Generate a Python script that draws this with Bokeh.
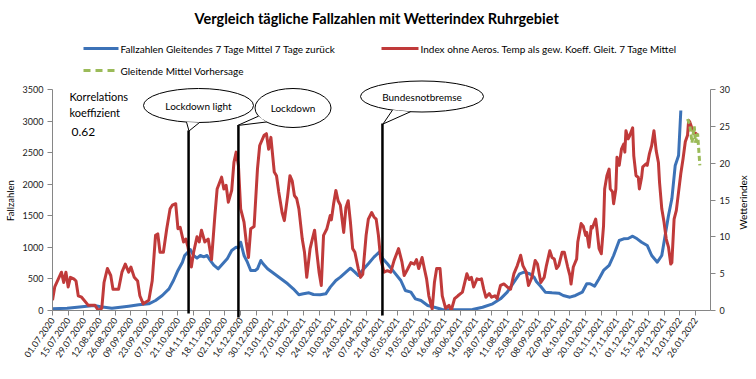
import math
from bokeh.plotting import figure
from bokeh.models import Range1d, LinearAxis, FixedTicker
from bokeh.core.properties import value
from bokeh.embed import file_html
from bokeh.resources import INLINE

FONT = "Lato"
BLUE = "#3C72B7"
RED = "#C03A3A"
GREEN = "#9BBB59"
AXIS_GREY = "#868686"

# ---------------- data ----------------
tick_labels = ["01.07.2020", "15.07.2020", "29.07.2020", "12.08.2020", "26.08.2020", "09.09.2020",
               "23.09.2020", "07.10.2020", "21.10.2020", "04.11.2020", "18.11.2020", "02.12.2020",
               "16.12.2020", "30.12.2020", "13.01.2021", "27.01.2021", "10.02.2021", "24.02.2021",
               "10.03.2021", "24.03.2021", "07.04.2021", "21.04.2021", "05.05.2021", "19.05.2021",
               "02.06.2021", "16.06.2021", "30.06.2021", "14.07.2021", "28.07.2021", "11.08.2021",
               "25.08.2021", "08.09.2021", "22.09.2021", "06.10.2021", "20.10.2021", "03.11.2021",
               "17.11.2021", "01.12.2021", "15.12.2021", "29.12.2021", "12.01.2022", "26.01.2022"]
tick_tage = [14 * i for i in range(len(tick_labels))]   # category index (days since 01.07.2020)
fall_ticks = [0, 500, 1000, 1500, 2000, 2500, 3000, 3500]
index_ticks = [0, 5, 10, 15, 20, 25, 30]

# Fallzahlen, gleitendes 7-Tage-Mittel (day index since 01.07.2020, value)
fall_tag = [0, 13, 22, 37, 43, 53, 68, 77, 86, 92, 98, 104, 108, 112, 116, 118, 121, 123, 126, 129,
            132, 135, 138, 141, 144, 148, 152, 156, 160, 164, 166, 168, 171, 174, 177, 181, 183, 186,
            188, 192, 198, 204, 210, 215, 220, 224, 229, 233, 239, 244, 248, 253, 257, 262, 266, 270,
            273, 278, 282, 287, 292, 295, 299, 305, 311, 315, 320, 324, 329, 335, 341, 348, 357, 366,
            375, 384, 393, 400, 406, 412, 417, 421, 426, 430, 432, 436, 440, 446, 452, 456, 462, 467,
            473, 477, 480, 484, 488, 492, 497, 501, 506, 510, 514, 518, 522, 526, 531, 535, 540, 544,
            547, 550, 553, 556, 559, 561]
fall_wert = [27, 37, 52, 79, 60, 37, 68, 90, 106, 158, 238, 343, 475, 634, 765, 871, 924, 966, 871, 829,
             871, 850, 871, 790, 720, 660, 740, 818, 950, 1003, 990, 1082, 871, 765, 634, 634, 660, 792,
             740, 660, 581, 502, 423, 343, 249, 264, 280, 253, 249, 264, 370, 475, 528, 607, 670, 607,
             554, 660, 740, 845, 930, 818, 740, 607, 475, 317, 290, 185, 158, 79, 52, 16, 10, 10,
             15, 52, 106, 185, 290, 449, 581, 607, 581, 528, 459, 380, 290, 280, 275, 238, 211, 238,
             290, 423, 423, 385, 502, 634, 713, 871, 1109, 1135, 1140, 1177, 1135, 1082, 1030, 871, 765, 871,
             1188, 1505, 1769, 2297, 2455, 3168]

# Wetterindex (Index ohne Aeros.), gleitendes 7-Tage-Mittel
index_tag = [0, 2, 8, 10, 12, 14, 16, 19, 21, 23, 26, 32, 38, 41, 44, 46, 49, 52, 54, 59, 62, 65, 68, 70,
             73, 76, 78, 81, 86, 89, 92, 94, 96, 99, 102, 105, 107, 110, 112, 114, 117, 119, 121, 124,
             126, 129, 131, 133, 136, 139, 142, 145, 147, 151, 153, 155, 157, 160, 162, 164, 166, 168,
             171, 173, 175, 177, 180, 183, 185, 189, 191, 193, 195, 198, 200, 202, 205, 207, 210, 212,
             214, 216, 218, 220, 223, 225, 227, 230, 232, 234, 236, 238, 240, 242, 245, 248, 249, 251,
             253, 255, 257, 260, 262, 264, 266, 268, 270, 273, 275, 277, 280, 282, 285, 287, 289, 291,
             293, 296, 299, 302, 305, 309, 312, 314, 317, 320, 323, 325, 327, 330, 332, 334, 336, 339,
             341, 343, 346, 348, 351, 354, 356, 359, 362, 366, 370, 372, 374, 376, 379, 381, 383, 385,
             387, 390, 392, 395, 397, 400, 403, 406, 409, 412, 415, 418, 420, 423, 425, 428, 431, 433,
             436, 439, 441, 444, 446, 448, 450, 452, 455, 457, 460, 462, 463, 465, 468, 469, 472, 474,
             476, 477, 479, 481, 482, 485, 486, 488, 490, 492, 493, 495, 497, 498, 500, 501, 503, 504,
             506, 508, 510, 511, 512, 514, 515, 518, 519, 521, 523, 524, 526, 527, 530, 531, 533, 535,
             537, 539, 541, 542, 544, 546, 548, 550, 552, 553, 555, 557, 559, 561, 563, 565, 567, 568,
             569, 571, 573, 574, 576]
index_wert = [1.4, 3.2, 5.2, 3.8, 5.2, 3.2, 4.5, 4.3, 4.0, 2.0, 1.8, 0.7, 0.7, 0.0, 0.3, 3.8, 5.7, 4.75, 2.9, 2.9, 5.2, 6.3, 5.2, 5.9,
              4.5, 4.0, 2.0, 0.9, 1.4, 4.0, 10.2, 10.4, 7.9, 7.9, 11.1, 13.8, 14.3, 14.5, 11.1, 11.3, 9.3, 9.7, 8.6, 5.9,
              7.9, 10.0, 9.3, 10.9, 9.3, 9.7, 6.9, 12.9, 16.5, 18.1, 16.5, 17.0, 14.7, 16.3, 20.1, 21.5, 19.7, 13.8,
              12.0, 9.3, 7.2, 11.1, 11.4, 19.2, 22.4, 23.8, 24.0, 21.9, 23.5, 18.8, 18.3, 16.1, 13.3, 12.2, 15.6, 18.3,
              17.6, 15.6, 15.2, 13.8, 9.7, 7.9, 4.5, 8.4, 9.7, 10.9, 7.9, 5.2, 3.4, 10.2, 11.1, 12.9, 12.3, 14.5,
              16.3, 14.9, 14.3, 10.6, 14.0, 14.9, 12.0, 8.4, 7.9, 5.7, 4.5, 4.9, 10.2, 12.4, 13.3, 12.7, 12.4, 10.2,
              7.0, 5.2, 5.4, 5.2, 6.8, 8.4, 6.6, 4.75, 5.6, 6.5, 6.3, 6.9, 5.7, 7.2, 5.7, 4.3, 2.0, 0.2,
              3.8, 5.7, 5.7, 2.0, 0.3, 0.7, 0.0, 1.6, 2.0, 2.5, 5.0, 4.2, 4.5, 3.2, 4.3, 4.2, 4.3, 2.9,
              1.8, 2.3, 1.8, 2.0, 1.6, 3.4, 3.6, 3.2, 2.9, 5.0, 6.1, 7.5, 6.1, 5.2, 3.4, 4.5, 6.8, 6.3,
              3.8, 4.5, 6.1, 8.1, 7.2, 7.0, 5.7, 6.1, 7.9, 7.9, 5.9, 4.75, 3.6, 5.9, 7.0, 9.3, 11.8, 11.4,
              10.2, 10.6, 8.6, 11.4, 11.2, 12.4, 11.2, 8.4, 7.7, 11.5, 16.5, 18.3, 19.2, 16.5, 16.1, 14.5, 16.5, 20.8,
              19.7, 21.9, 22.6, 21.5, 24.4, 23.3, 23.6, 24.8, 21.0, 18.3, 18.1, 16.5, 18.1, 19.5, 19.9, 19.7, 21.3, 22.4,
              24.4, 21.7, 20.1, 17.4, 13.8, 12.0, 9.7, 8.6, 6.3, 6.5, 12.4, 13.6, 16.1, 18.6, 20.6, 22.9, 23.8, 25.8,
              25.6, 24.7, 24.0, 24.1, 23.8]

# Gleitende Mittel Vorhersage
vorh_tag = [567, 569, 571, 573, 574, 576, 578]
vorh_wert = [26.0, 25.2, 22.8, 25.0, 22.8, 24.0, 19.7]

# Ereignisse (day index)
ereignis_tag = [121.5, 166, 294.6]
ereignis_text = ["Lockdown light", "Lockdown", "Bundesnotbremse"]

legend_labels = ["Fallzahlen Gleitendes 7 Tage Mittel 7 Tage zurück",
                 "Index ohne Aeros. Temp als gew. Koeff. Gleit. 7 Tage Mittel",
                 "Gleitende Mittel Vorhersage"]

# ---------------- layout ----------------
W, H = 756, 379
BL, BR, BT, BB = 52, 46, 89, 69
FW, FH = W - BL - BR, H - BT - BB
X_END = 587.5
Y_MAX = 3500
PAGE_LEFT, PAGE_BOTTOM = BL, BT + FH   # frame left / bottom in canvas pixels


def px_x(px):
    return (px - PAGE_LEFT) * X_END / FW


def px_y(py):
    return (PAGE_BOTTOM - py) * Y_MAX / FH


p = figure(width=W, height=H, x_range=Range1d(0, X_END), y_range=Range1d(0, Y_MAX),
           min_border_left=BL, min_border_right=BR, min_border_top=BT, min_border_bottom=BB,
           output_backend="svg", toolbar_location=None)
p.outline_line_color = None
p.grid.visible = False
p.background_fill_color = "white"
p.border_fill_color = "white"
p.extra_y_ranges = {"wi": Range1d(0, 30)}


def style_axis(ax):
    ax.axis_line_color = AXIS_GREY
    ax.major_tick_line_color = AXIS_GREY
    ax.minor_tick_line_color = None
    ax.major_tick_in = 0
    ax.major_tick_out = 5
    ax.major_label_text_font = FONT
    ax.major_label_text_font_size = "9px"
    ax.major_label_text_color = "#1a1a1a"
    ax.major_label_standoff = 4


xa = p.xaxis[0]
xa.ticker = FixedTicker(ticks=tick_tage)
xa.major_label_overrides = {t: l for t, l in zip(tick_tage, tick_labels)}
xa.major_label_orientation = math.radians(55)
style_axis(xa)
xa.major_label_standoff = 3

ya = p.yaxis[0]
ya.ticker = FixedTicker(ticks=fall_ticks)
style_axis(ya)

ra = LinearAxis(y_range_name="wi", ticker=FixedTicker(ticks=index_ticks))
style_axis(ra)
p.add_layout(ra, "right")

# ---------------- series ----------------
blue = p.line(fall_tag, fall_wert, line_color=BLUE, line_width=3, line_join="round")
red = p.line(index_tag, index_wert, y_range_name="wi", line_color=RED, line_width=3, line_join="round")
green = p.line(vorh_tag, vorh_wert, y_range_name="wi", line_color=GREEN, line_width=3, line_dash="5 3")

# ---------------- event lines + callouts ----------------
line_tops = [130, 125, 123]
line_bottoms = [313, 317, 315]
p.segment(x0=ereignis_tag, x1=ereignis_tag, y0=[px_y(v) for v in line_bottoms],
          y1=[px_y(v) for v in line_tops], line_color="black", line_width=2.5, level="annotation")

callouts = [
    # centre (canvas px), width, height, tail base x positions, tail tip
    dict(c=(198, 105), w=110, h=34, base=(186, 199), tip=(188.5, 130.5)),
    dict(c=(292.5, 107.5), w=76, h=39, base=(258, 266), tip=(237, 125)),
    dict(c=(421.5, 96), w=123, h=31, base=(392, 410), tip=(382.5, 123.5)),
]
p.ellipse(x=[px_x(c["c"][0]) for c in callouts], y=[px_y(c["c"][1]) for c in callouts],
          width=[c["w"] for c in callouts], height=[c["h"] for c in callouts],
          width_units="screen", height_units="screen",
          fill_color="white", line_color="black", line_width=1, level="annotation")

tail_xs, tail_ys = [], []
for c in callouts:
    cx, cy = c["c"]
    a, b = c["w"] / 2, c["h"] / 2
    pts = []
    for bx in c["base"]:
        by = cy + b * math.sqrt(max(0.0, 1 - ((bx - cx) / a) ** 2))
        pts.append((bx, by))
    poly = [pts[0], c["tip"], pts[1]]
    tail_xs.append([px_x(q[0]) for q in poly])
    tail_ys.append([px_y(q[1]) for q in poly])
p.patches(tail_xs, tail_ys, fill_color="white", line_color=None, level="annotation")
p.multi_line(tail_xs, tail_ys, line_color="black", line_width=1, level="annotation")


# ---------------- texts (glyphs, unclipped annotation level) ----------------
def txt(text, x, y, size, align="left", angle=0.0, bold=False):
    p.text(x=[px_x(x)], y=[px_y(y)], text=[text], text_font=value(FONT), text_font_size=value(size),
           text_align=align, text_baseline="middle", angle=angle,
           text_font_style="bold" if bold else "normal", text_color="black", level="annotation")


for c, t in zip(callouts, ereignis_text):
    txt(t, c["c"][0], c["c"][1], "10px", align="center")

txt("Vergleich tägliche Fallzahlen mit  Wetterindex Ruhrgebiet", 378, 18, "14.5px", align="center", bold=True)
txt("Korrelations", 69, 96, "11px")
txt("koeffizient", 69, 112, "11px")
txt("0.62", 71, 131.5, "12px")
txt("Fallzahlen", 10, 200, "9.5px", align="center", angle=math.pi / 2)
txt("Wetterindex", 742, 202, "10px", align="center", angle=math.pi / 2)

# ---------------- legend (drawn manually above the plot area) ----------------
leg_rows = [(83, 118, 48, BLUE, "solid", legend_labels[0], 120),
            (381, 418, 48, RED, "solid", legend_labels[1], 420),
            (83, 115, 70, GREEN, "7 5", legend_labels[2], 120)]
for x0, x1, y, col, dash, lab, tx in leg_rows:
    p.line([px_x(x0), px_x(x1)], [px_y(y), px_y(y)], line_color=col, line_width=3, line_dash=dash,
           level="annotation")
    txt(lab, tx, y, "10px")

open("out.html", "w").write(file_html(p, INLINE))
